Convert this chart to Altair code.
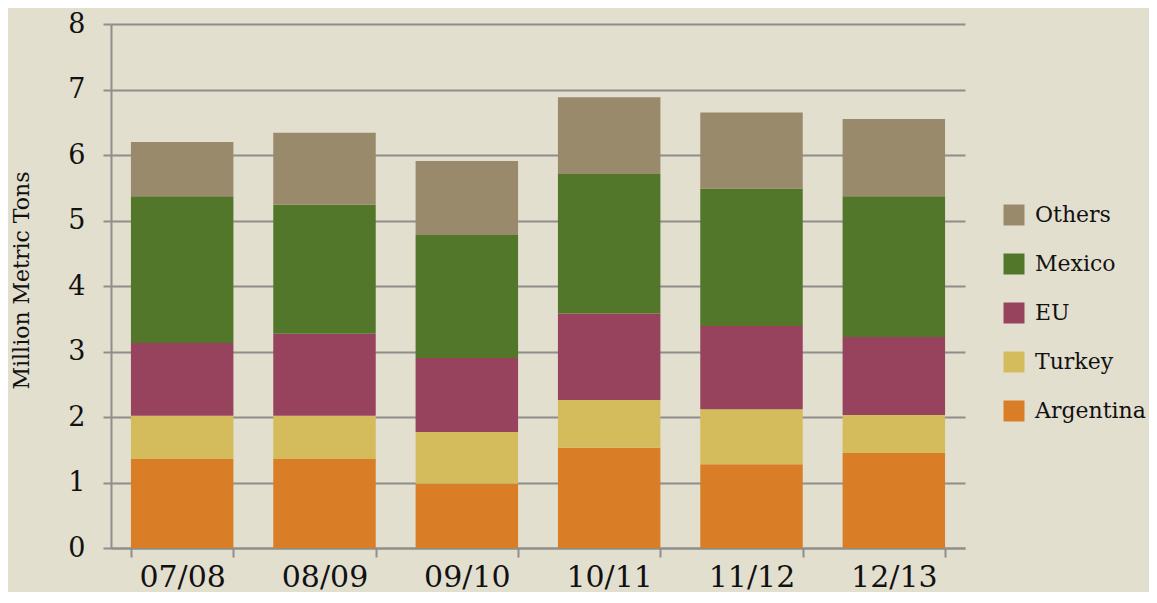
import altair as alt
import pandas as pd

seasons = ["07/08", "08/09", "09/10", "10/11", "11/12", "12/13"]
argentina = [1.36, 1.36, 0.98, 1.53, 1.28, 1.45]
turkey = [0.66, 0.66, 0.79, 0.73, 0.84, 0.58]
eu = [1.11, 1.25, 1.13, 1.32, 1.27, 1.19]
mexico = [2.24, 1.97, 1.88, 2.13, 2.10, 2.15]
others = [0.83, 1.10, 1.13, 1.17, 1.16, 1.18]

series_names = ["Argentina", "Turkey", "EU", "Mexico", "Others"]
series_colors = ["#d97e27", "#d4bc5c", "#98435d", "#53772a", "#9a8a6c"]
legend_order = ["Others", "Mexico", "EU", "Turkey", "Argentina"]

values = [argentina, turkey, eu, mexico, others]
rows = []
for si, (name, vals) in enumerate(zip(series_names, values)):
    for season, v in zip(seasons, vals):
        rows.append({"season": season, "country": name, "value": v, "stack": si})
df = pd.DataFrame(rows)

FONT = "DejaVu Serif"
GRID = "#8e8e8a"

chart = (
    alt.Chart(df)
    .mark_bar()
    .encode(
        x=alt.X(
            "season:N",
            sort=seasons,
            scale=alt.Scale(paddingInner=0.28, paddingOuter=0.14),
            axis=alt.Axis(
                title=None,
                labelAngle=0,
                labelFont=FONT,
                labelFontSize=30,
                labelColor="#111111",
                labelPadding=5,
                domainColor=GRID,
                domainWidth=2,
                tickColor=GRID,
                tickWidth=2,
                tickSize=9,
                tickBand="extent",
                grid=False,
            ),
        ),
        y=alt.Y(
            "value:Q",
            stack="zero",
            scale=alt.Scale(domain=[0, 8], nice=False),
            axis=alt.Axis(
                title="Million Metric Tons",
                titleFont=FONT,
                titleFontSize=22,
                titleFontWeight="normal",
                titleColor="#111111",
                titleAngle=-90,
                titleX=-90,
                titleY=256,
                titleAlign="center",
                titleBaseline="middle",
                values=[0, 1, 2, 3, 4, 5, 6, 7, 8],
                format="d",
                labelFont=FONT,
                labelFontSize=27,
                labelColor="#111111",
                labelPadding=18,
                domainColor=GRID,
                domainWidth=2,
                tickColor=GRID,
                tickWidth=2,
                tickSize=8,
                grid=True,
                gridColor=GRID,
                gridWidth=2,
            ),
        ),
        color=alt.Color(
            "country:N",
            scale=alt.Scale(domain=series_names, range=series_colors),
            sort=legend_order,
            legend=alt.Legend(
                title=None,
                orient="none",
                legendX=892,
                legendY=180,
                symbolType="square",
                symbolSize=441,
                symbolStrokeWidth=0,
                labelFont=FONT,
                labelFontSize=22,
                labelColor="#111111",
                labelOffset=10,
                rowPadding=27,
                values=legend_order,
            ),
        ),
        order=alt.Order("stack:Q", sort="ascending"),
    )
    .properties(
        width=854,
        height=524,
        autosize=alt.AutoSizeParams(type="none"),
        padding={"left": 103, "top": 16, "right": 184, "bottom": 44},
    )
    .configure(background="#e3dfcf")
    .configure_view(stroke=None)
)

chart.save("out.html", embed_options={"renderer": "svg", "actions": False})
